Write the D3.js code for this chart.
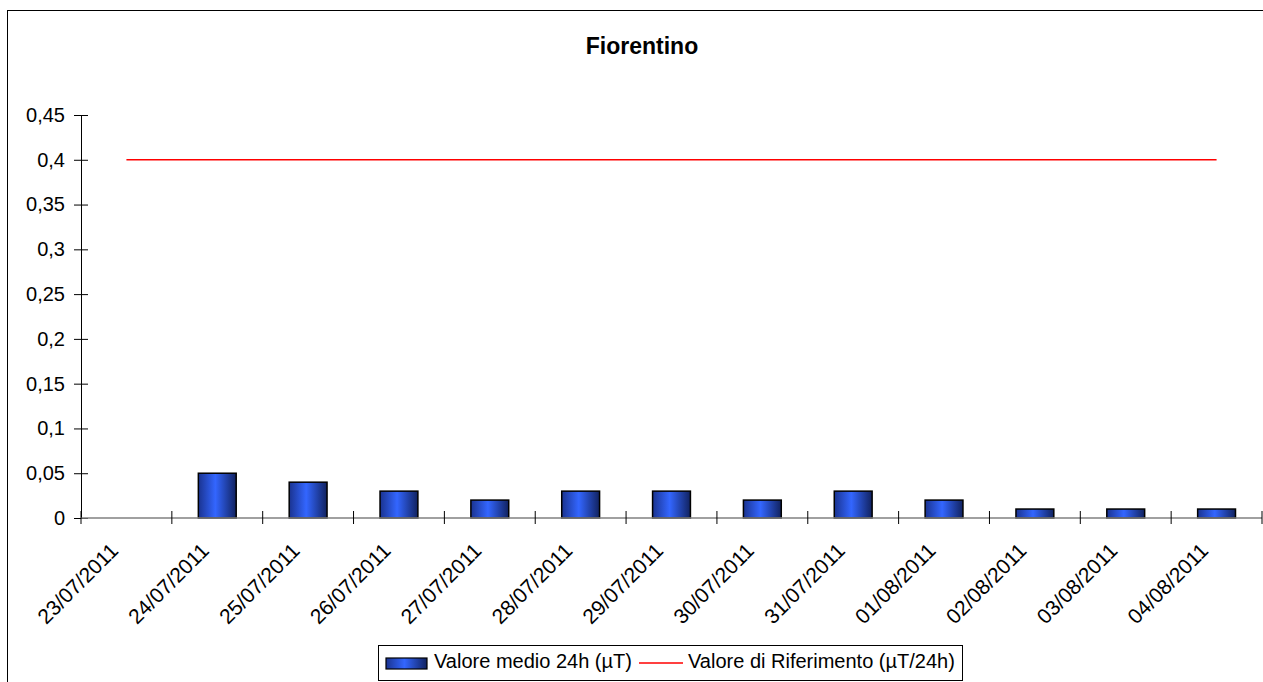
<!DOCTYPE html>
<html>
<head>
<meta charset="utf-8">
<script src="https://cdn.jsdelivr.net/npm/d3@7"></script>
<style>
  html, body { margin: 0; padding: 0; background: #fff; }
  svg { display: block; font-family: Arial, "Liberation Sans", sans-serif; }
</style>
</head>
<body>
<svg id="chart" width="1263" height="682"></svg>
<script>
// Daily mean magnetic field values (µT) for the Fiorentino station
const categories = ["23/07/2011", "24/07/2011", "25/07/2011", "26/07/2011", "27/07/2011",
  "28/07/2011", "29/07/2011", "30/07/2011", "31/07/2011", "01/08/2011",
  "02/08/2011", "03/08/2011", "04/08/2011"];
const dailyMean = [null, 0.05, 0.04, 0.03, 0.02, 0.03, 0.03, 0.02, 0.03, 0.02, 0.01, 0.01, 0.01];
const referenceValue = [0.4, 0.4, 0.4, 0.4, 0.4, 0.4, 0.4, 0.4, 0.4, 0.4, 0.4, 0.4, 0.4];
const yTicks = [0, 0.05, 0.1, 0.15, 0.2, 0.25, 0.3, 0.35, 0.4, 0.45];
const titleText = "Fiorentino";
const seriesNames = ["Valore medio 24h (µT)", "Valore di Riferimento (µT/24h)"];

const svg = d3.select("#chart");

// bar gradient: dark edges, bright blue centre
const defs = svg.append("defs");
const grad = defs.append("linearGradient").attr("id", "barGrad")
  .attr("x1", "0%").attr("x2", "100%").attr("y1", "0%").attr("y2", "0%");
grad.append("stop").attr("offset", "0%").attr("stop-color", "#1a3390");
grad.append("stop").attr("offset", "45%").attr("stop-color", "#3366ff");
grad.append("stop").attr("offset", "100%").attr("stop-color", "#11225f");

// outer chart frame
svg.append("rect")
  .attr("x", 7.5).attr("y", 10.5)
  .attr("width", 1300).attr("height", 700)
  .attr("fill", "#fff").attr("stroke", "#000").attr("stroke-width", 1);

// title
svg.append("text")
  .attr("x", 642).attr("y", 54)
  .attr("text-anchor", "middle")
  .attr("font-size", 23).attr("font-weight", "bold")
  .text(titleText);

const plot = { left: 81, right: 1262, top: 115, bottom: 518 };

const x = d3.scaleBand().domain(categories).range([plot.left, plot.right]).padding(0);
const y = d3.scaleLinear().domain([0, 0.45]).range([plot.bottom, plot.top]);

const fmt = v => String(+v.toFixed(2)).replace(".", ",");

// y axis with crossing ticks
const yAxis = svg.append("g")
  .attr("transform", `translate(${plot.left},0)`)
  .call(d3.axisLeft(y).tickValues(yTicks).tickFormat(fmt).tickSize(7).tickPadding(9));
yAxis.select(".domain").attr("stroke", "#000");
yAxis.selectAll(".tick line").attr("x1", 7).attr("x2", -7).attr("stroke", "#000");
yAxis.selectAll(".tick text").attr("font-size", 20).attr("fill", "#000")
  .attr("font-family", "Arial, 'Liberation Sans', sans-serif");

// bars
const barW = x.bandwidth() / 2.4;
svg.append("g").selectAll("rect")
  .data(categories.map((c, i) => ({ c, v: dailyMean[i] })).filter(d => d.v != null))
  .join("rect")
  .attr("x", d => x(d.c) + (x.bandwidth() - barW) / 2)
  .attr("y", d => y(d.v))
  .attr("width", barW)
  .attr("height", d => y(0) - y(d.v))
  .attr("fill", "url(#barGrad)")
  .attr("stroke", "#000").attr("stroke-width", 1.5);

// x axis: grey line, black crossing ticks at band boundaries
const xAxisG = svg.append("g");
xAxisG.append("line")
  .attr("x1", plot.left).attr("x2", plot.right)
  .attr("y1", y(0)).attr("y2", y(0))
  .attr("stroke", "#808080").attr("stroke-width", 1.5);
const boundaries = categories.map(c => x(c)).concat([plot.right]);
xAxisG.selectAll("line.tk").data(boundaries).join("line")
  .attr("class", "tk")
  .attr("x1", d => d).attr("x2", d => d)
  .attr("y1", y(0) - 7).attr("y2", y(0) + 6)
  .attr("stroke", "#000");
xAxisG.selectAll("text").data(categories).join("text")
  .attr("transform", d => `translate(${x(d) + x.bandwidth() / 2 - 7},${y(0) + 34}) rotate(-45)`)
  .attr("text-anchor", "end")
  .attr("font-size", 21)
  .text(d => d);

// reference line
const line = d3.line()
  .x((d, i) => x(categories[i]) + x.bandwidth() / 2)
  .y(d => y(d));
svg.append("path")
  .datum(referenceValue)
  .attr("d", line)
  .attr("fill", "none")
  .attr("stroke", "#ff0000").attr("stroke-width", 1.5);

// legend
const lg = svg.append("g");
lg.append("rect").attr("x", 378.5).attr("y", 645.5).attr("width", 584).attr("height", 35)
  .attr("fill", "#fff").attr("stroke", "#000");
lg.append("rect").attr("x", 386).attr("y", 658).attr("width", 41).attr("height", 11)
  .attr("fill", "url(#barGrad)").attr("stroke", "#000").attr("stroke-width", 1.2);
lg.append("text").attr("x", 434).attr("y", 668).attr("font-size", 20).text(seriesNames[0]);
lg.append("line").attr("x1", 639).attr("x2", 683).attr("y1", 663).attr("y2", 663)
  .attr("stroke", "#ff0000").attr("stroke-width", 1.5);
lg.append("text").attr("x", 688).attr("y", 668).attr("font-size", 20).text(seriesNames[1]);
</script>
</body>
</html>
